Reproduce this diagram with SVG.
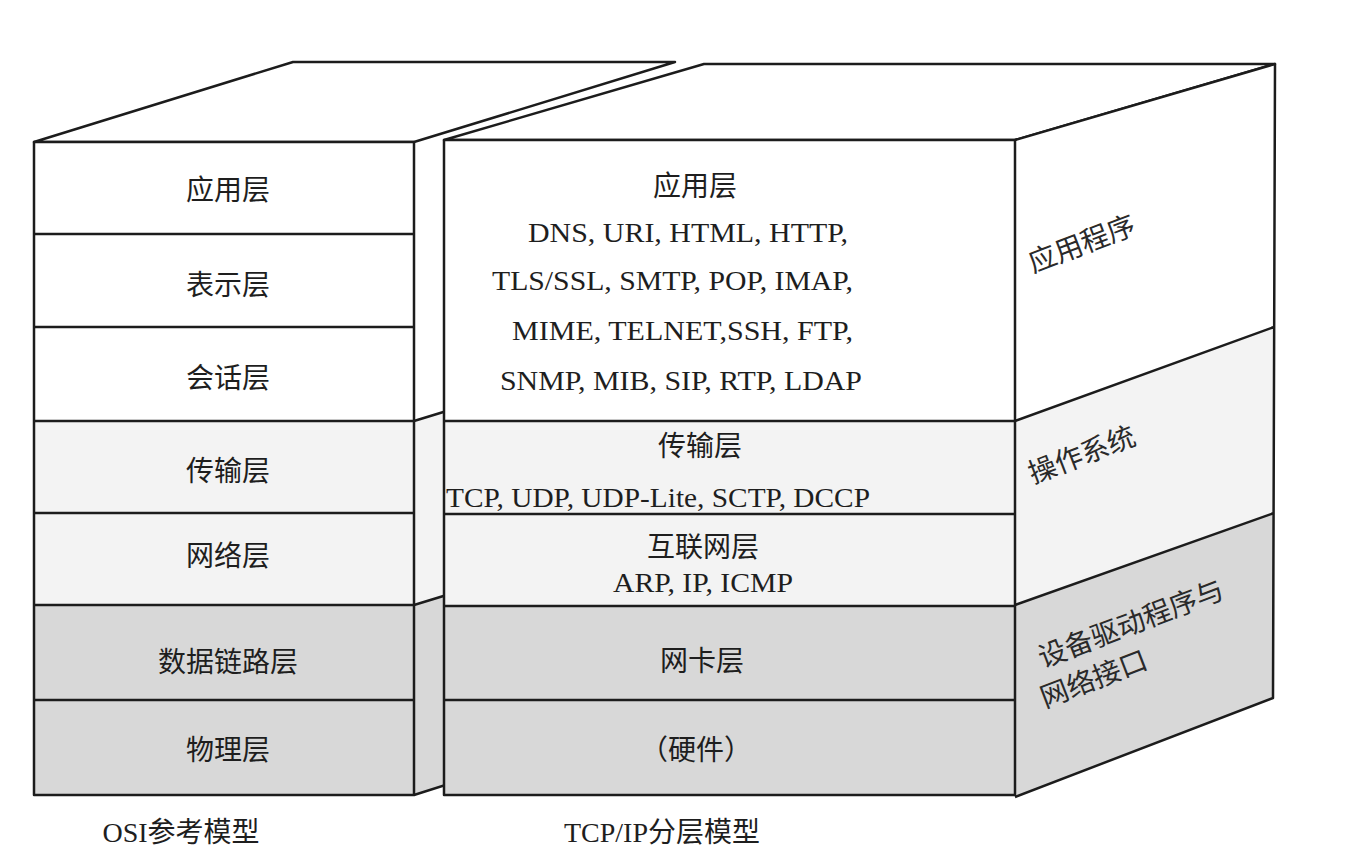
<svg xmlns="http://www.w3.org/2000/svg" width="1351" height="868" viewBox="0 0 1351 868">
<style>
.ln{stroke:#1c1c1c;stroke-width:2.5;stroke-linejoin:round;fill:none}
.w{fill:#ffffff}
.l{fill:#f3f3f3}
.g{fill:#d8d8d8}
.cj{font-family:"Liberation Serif","Noto Sans CJK SC",serif;font-size:28px;fill:#1e1e1e;text-anchor:middle}
.la{font-family:"Liberation Serif","Noto Sans CJK SC",serif;font-size:28px;fill:#1e1e1e}
.sd{font-family:"Liberation Serif","Noto Sans CJK SC",serif;font-size:28px;fill:#2a2a2a}
.cap{font-family:"Liberation Serif","Noto Sans CJK SC",serif;font-size:28px;fill:#1e1e1e;text-anchor:middle}
</style>
<rect width="1351" height="868" fill="#ffffff"/>

<g id="osi">
  <polygon class="w" points="414,142 675,62 675,341 414,421"/>
  <polygon class="l" points="414,421 675,341 675,525 414,605"/>
  <polygon class="g" points="414,605 675,525 675,712 414,795"/>
  <path class="ln" d="M414,421 L675,341 M414,605 L675,525 M414,795 L675,712"/>
  <polygon class="ln" points="34,142 293,62 675,62 414,142" style="fill:#fff"/>
  <rect class="w" x="34" y="142" width="380" height="279"/>
  <rect class="l" x="34" y="421" width="380" height="184"/>
  <rect class="g" x="34" y="605" width="380" height="190"/>
  <rect class="ln" x="34" y="142" width="380" height="653"/>
  <path class="ln" d="M34,234 H414 M34,327 H414 M34,421 H414 M34,513 H414 M34,605 H414 M34,700 H414"/>
  <text class="cj" x="228" y="200">应用层</text>
  <text class="cj" x="228" y="295">表示层</text>
  <text class="cj" x="228" y="388">会话层</text>
  <text class="cj" x="228" y="481">传输层</text>
  <text class="cj" x="228" y="566">网络层</text>
  <text class="cj" x="228" y="672">数据链路层</text>
  <text class="cj" x="228" y="760">物理层</text>
</g>

<g id="tcpip">
  <polygon class="ln" points="444,140 704,64 1275,64 1015,140" style="fill:#fff"/>
  <polygon class="w" points="1015,140 1275,64 1274,327 1015,421"/>
  <polygon class="l" points="1015,421 1274,327 1274,513 1015,605"/>
  <polygon class="g" points="1015,605 1274,513 1273,698 1015,797"/>
  <path class="ln" d="M1015,140 L1275,64 L1273,698 L1015,797 M1015,421 L1274,327 M1015,605 L1274,513"/>
  <rect class="w" x="444" y="140" width="571" height="281"/>
  <rect class="l" x="444" y="421" width="571" height="185"/>
  <rect class="g" x="444" y="606" width="571" height="189"/>
  <rect class="ln" x="444" y="140" width="571" height="655"/>
  <path class="ln" d="M444,421 H1015 M444,514 H1015 M444,606 H1015 M444,700 H1015"/>

  <text class="cj" x="695" y="196">应用层</text>
  <text class="la" x="528" y="242" textLength="320" lengthAdjust="spacingAndGlyphs">DNS, URI, HTML, HTTP,</text>
  <text class="la" x="492" y="290" textLength="361" lengthAdjust="spacingAndGlyphs">TLS/SSL, SMTP, POP, IMAP,</text>
  <text class="la" x="512" y="340" textLength="341" lengthAdjust="spacingAndGlyphs">MIME, TELNET,SSH, FTP,</text>
  <text class="la" x="500" y="390" textLength="362" lengthAdjust="spacingAndGlyphs">SNMP, MIB, SIP, RTP, LDAP</text>
  <text class="cj" x="700" y="456">传输层</text>
  <text class="la" x="446" y="507" textLength="424" lengthAdjust="spacingAndGlyphs">TCP, UDP, UDP-Lite, SCTP, DCCP</text>
  <text class="cj" x="703" y="557">互联网层</text>
  <text class="la" x="613" y="592" textLength="180" lengthAdjust="spacingAndGlyphs">ARP, IP, ICMP</text>
  <text class="cj" x="702" y="671">网卡层</text>
  <text class="cj" x="696" y="760">（硬件）</text>

  <text class="sd" transform="translate(1033,273) rotate(-21)">应用程序</text>
  <text class="sd" transform="translate(1033,484) rotate(-21)">操作系统</text>
  <text class="sd" transform="translate(1043,668) rotate(-21)">设备驱动程序与</text>
  <text class="sd" transform="translate(1045,708) rotate(-21)">网络接口</text>
</g>

<g id="captions">
  <text class="cap" x="181" y="842">OSI参考模型</text>
  <text class="cap" x="662" y="842">TCP/IP分层模型</text>
</g>
</svg>
